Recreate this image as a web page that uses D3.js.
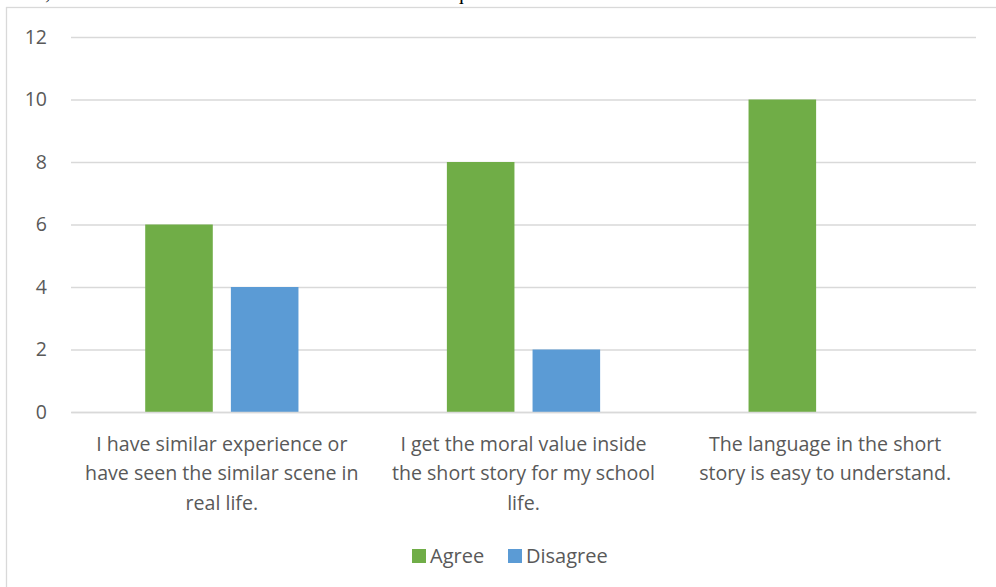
<!DOCTYPE html>
<html>
<head>
<meta charset="utf-8">
<script src="https://cdn.jsdelivr.net/npm/d3@7"></script>
<style>
  html, body { margin: 0; padding: 0; background: #fff; overflow: hidden; }
  svg { display: block; }
</style>
</head>
<body>
<svg id="chart" width="996" height="587"></svg>
<script>
// ---- data ----
const categories = [
  "I have similar experience or have seen the similar scene in real life.",
  "I get the moral value inside the short story for my school life.",
  "The language in the short story is easy to understand."
];
const categoryLines = [
  ["I have similar experience or", "have seen the similar scene in", "real life."],
  ["I get the moral value inside", "the short story for my school", "life."],
  ["The language in the short", "story is easy to understand."]
];
const seriesNames = ["Agree", "Disagree"];
const agreeValues = [6, 8, 10];
const disagreeValues = [4, 2, 0];
const yTicks = [0, 2, 4, 6, 8, 10, 12];
const seriesColors = ["#70AD47", "#5B9BD5"];
const topText = "Then, the detail of the number of the answers to each question was revealed below.";

// ---- layout ----
const svg = d3.select("#chart");
const plot = { left: 71, right: 976, top: 37, bottom: 412 };
const font = "'Open Sans', 'Noto Sans', sans-serif";

// cut-off paragraph text above the chart
svg.append("text")
  .attr("x", 2).attr("y", -1)
  .attr("font-family", "Liberation Serif, serif")
  .attr("font-size", 21)
  .attr("fill", "#000")
  .text(topText);

// chart border
svg.append("rect")
  .attr("x", 6.5).attr("y", 7.5)
  .attr("width", 1100).attr("height", 700)
  .attr("fill", "none")
  .attr("stroke", "#d9d9d9")
  .attr("stroke-width", 1.3);

const x0 = d3.scaleBand().domain(d3.range(categories.length))
  .range([plot.left, plot.right]).paddingInner(0).paddingOuter(0);
const y = d3.scaleLinear().domain([0, 12]).range([plot.bottom, plot.top]);

const bandW = x0.bandwidth();
const barW = bandW * 0.224;
const gap = bandW * 0.06;
const x1 = d3.scaleOrdinal().domain(seriesNames)
  .range([bandW / 2 - gap / 2 - barW, bandW / 2 + gap / 2]);

// gridlines via axis
const yAxis = d3.axisLeft(y).tickValues(yTicks).tickSize(-(plot.right - plot.left)).tickPadding(24);
const gy = svg.append("g").attr("transform", `translate(${plot.left},0)`).call(yAxis);
gy.select(".domain").remove();
gy.selectAll(".tick line").attr("stroke", "#d9d9d9").attr("stroke-width", 1.5);
gy.selectAll(".tick text")
  .attr("font-family", font)
  .attr("font-size", 19.5)
  .attr("fill", "#595959");

// bars
const data = categories.map((c, i) => ({ i, values: [agreeValues[i], disagreeValues[i]] }));
const groups = svg.append("g").selectAll("g").data(data).join("g")
  .attr("transform", d => `translate(${x0(d.i)},0)`);
groups.selectAll("rect")
  .data(d => d.values.map((v, k) => ({ name: seriesNames[k], v, k })).filter(e => e.v > 0))
  .join("rect")
  .attr("x", e => x1(e.name))
  .attr("width", barW)
  .attr("y", e => y(e.v))
  .attr("height", e => y(0) - y(e.v))
  .attr("fill", e => seriesColors[e.k]);

// baseline axis
const gx = svg.append("g").attr("transform", `translate(0,${plot.bottom})`)
  .call(d3.axisBottom(x0).tickSize(0).tickFormat(""));
gx.select(".domain").attr("stroke", "#d9d9d9").attr("stroke-width", 1.5);

// category labels
const labels = svg.append("g").selectAll("text").data(categoryLines).join("text")
  .attr("text-anchor", "middle")
  .attr("font-family", font)
  .attr("font-size", 19.6)
  .attr("fill", "#595959");
labels.each(function (lines, i) {
  d3.select(this).selectAll("tspan").data(lines).join("tspan")
    .attr("x", x0(i) + bandW / 2)
    .attr("y", (l, j) => 450.7 + j * 29.7)
    .text(l => l);
});

// legend
const legendX = [412, 508];
const legend = svg.append("g").selectAll("g").data(seriesNames).join("g")
  .attr("transform", (d, k) => `translate(${legendX[k]},556)`);
legend.append("rect").attr("x", 0).attr("y", -7).attr("width", 14).attr("height", 14)
  .attr("fill", (d, k) => seriesColors[k]);
legend.append("text").attr("x", 18).attr("y", 7)
  .attr("font-family", font)
  .attr("font-size", 20)
  .attr("fill", "#595959")
  .text(d => d);
</script>
</body>
</html>
